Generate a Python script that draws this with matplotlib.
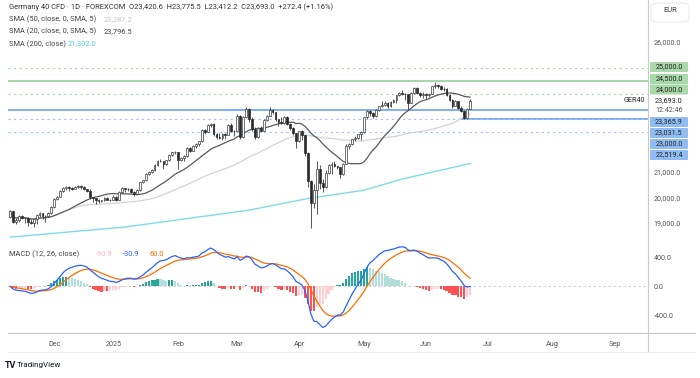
import pandas as pd
import matplotlib.pyplot as plt
import numpy as np
from matplotlib.patches import FancyBboxPatch
from matplotlib.lines import Line2D

plt.rcParams['font.family'] = ['Roboto', 'DejaVu Sans']

# Daily bars, 11 Nov 2024 -> 23 Jun 2025
opens = [19230, 19450, 19030, 19110, 19260, 19210, 19190, 19060, 19000, 19150, 19320, 19400, 19290, 19260, 19380,
         19620, 19930, 20020, 20230, 20350, 20380, 20340, 20320, 20400, 20420, 20400, 20310, 20240, 20000, 19960, 19880, 19850, 19880, 19980, 19900,
         19910, 20020, 19900, 20220, 20340, 20330, 20310, 20210, 20130, 20270, 20570, 20650, 20900, 20990, 21040, 21250, 21410, 21390, 21280, 21430, 21630, 21730,
         21730, 21430, 21500, 21590, 21900, 21790, 21990, 22040, 22150, 22610, 22510, 22800, 22840, 22430, 22310, 22290, 22420, 22410, 22790, 22550,
         22550, 23150, 22330, 23080, 23420, 23010, 22620, 22330, 22680, 22570, 22990, 23150, 23380, 23290, 23000, 22890, 22850, 23110, 22840, 22680, 22460,
         22160, 22540, 22390, 21720, 20640, 19790, 20280, 21100, 20560, 20380, 20950, 21250, 21300, 21200, 21150, 20880, 21290, 21960, 22060, 22240, 22270, 22430,
         22500, 23080, 23340, 23250, 23120, 23350, 23500, 23570, 23640, 23530, 23690, 23770, 23930, 24040, 24000, 23990, 23630, 24030, 24230, 24040, 23930,
         24000, 23930, 23990, 24280, 24320, 24300, 24170, 24160, 23950, 23770, 23520, 23700, 23430, 23320, 23060, 23420.6]
highs = [19500, 19480, 19200, 19300, 19330, 19250, 19230, 19150, 19100, 19350, 19420, 19410, 19320, 19420, 19650,
         19960, 20060, 20260, 20380, 20420, 20430, 20400, 20450, 20470, 20460, 20420, 20330, 20300, 20020, 19980, 19920, 19900, 20000, 19990, 19930,
         20100, 20040, 20250, 20380, 20360, 20370, 20360, 20230, 20300, 20600, 20680, 20920, 21000, 21080, 21280, 21430, 21470, 21400, 21450, 21650, 21760, 21800,
         21730, 21540, 21620, 21920, 21950, 22010, 22080, 22160, 22630, 22640, 22820, 22880, 22850, 22480, 22470, 22470, 22480, 22820, 22850, 22600,
         23200, 23170, 23150, 23480, 23450, 23080, 22700, 22720, 22760, 23030, 23190, 23480, 23420, 23300, 23020, 23080, 23130, 23150, 22870, 22700, 22480,
         22560, 22600, 22390, 21750, 20650, 20500, 21400, 21250, 20700, 21050, 21280, 21350, 21400, 21220, 21170, 21320, 22050, 22100, 22260, 22350, 22450, 22550,
         23100, 23370, 23360, 23300, 23400, 23530, 23700, 23700, 23660, 23720, 23800, 23950, 24060, 24120, 24020, 24000, 24050, 24250, 24240, 24050, 24050,
         24020, 24020, 24300, 24430, 24380, 24330, 24250, 24200, 24000, 23780, 23750, 23720, 23500, 23350, 23440, 23775.5]
lows = [19200, 19000, 18980, 19050, 19150, 19020, 18890, 18960, 18850, 18980, 19250, 19150, 19060, 19220, 19350,
        19600, 19880, 19990, 20200, 20280, 20250, 20260, 20300, 20360, 20330, 20260, 20200, 19950, 19800, 19750, 19790, 19830, 19840, 19880, 19860,
        19880, 19870, 19890, 20180, 20220, 20250, 20150, 20050, 20100, 20250, 20530, 20620, 20850, 20920, 21000, 21220, 21350, 21080, 21230, 21400, 21580, 21650,
        21100, 21380, 21400, 21560, 21750, 21770, 21900, 21960, 22120, 22450, 22500, 22700, 22380, 22230, 22250, 22210, 22230, 22400, 22530, 22380,
        22540, 22250, 22300, 23050, 22900, 22550, 22230, 22300, 22500, 22550, 22950, 23140, 23200, 22950, 22760, 22840, 22830, 22800, 22600, 22400, 21900,
        22130, 22200, 21600, 20380, 18800, 19600, 19350, 20300, 20200, 20360, 20900, 20900, 21150, 21100, 20750, 20850, 21270, 21850, 22000, 22150, 22230, 22200,
        22480, 23000, 23150, 23050, 23080, 23330, 23480, 23500, 23450, 23480, 23650, 23620, 23900, 23950, 23750, 23350, 23620, 24000, 24000, 23850, 23820,
        23800, 23850, 23980, 24200, 24200, 24150, 24100, 23900, 23720, 23450, 23500, 23400, 23300, 23020, 23050, 23412.2]
closes = [19450, 19030, 19110, 19260, 19210, 19190, 19060, 19000, 19150, 19320, 19400, 19290, 19260, 19380, 19620,
          19930, 20020, 20230, 20350, 20380, 20340, 20320, 20400, 20420, 20400, 20310, 20240, 20000, 19960, 19880, 19850, 19880, 19980, 19900, 19910,
          20020, 19900, 20220, 20340, 20330, 20310, 20210, 20130, 20270, 20570, 20650, 20900, 20990, 21040, 21250, 21410, 21390, 21280, 21430, 21630, 21730, 21730,
          21430, 21500, 21590, 21900, 21790, 21990, 22040, 22150, 22610, 22510, 22800, 22840, 22430, 22310, 22290, 22420, 22410, 22790, 22550, 22550,
          23150, 22330, 23080, 23420, 23010, 22620, 22330, 22680, 22570, 22990, 23150, 23380, 23290, 23000, 22890, 22850, 23110, 22840, 22680, 22460, 22160,
          22540, 22390, 21720, 20640, 19790, 20280, 21100, 20560, 20380, 20950, 21250, 21300, 21200, 21150, 20880, 21290, 21960, 22060, 22240, 22270, 22430, 22500,
          23080, 23340, 23250, 23120, 23350, 23500, 23570, 23640, 23530, 23690, 23770, 23930, 24040, 24000, 23990, 23630, 24030, 24230, 24040, 23930, 24000,
          23930, 23990, 24280, 24320, 24300, 24170, 24160, 23950, 23770, 23520, 23700, 23430, 23320, 23060, 23420.6, 23693.0]

# 200-day SMA (history before November is not on the chart)
sma200_bar = [0, 39, 81, 101, 120, 133, 156]
sma200_val = [18460, 18850, 19500, 19950, 20270, 20700, 21302]

month_labels = ['Dec', '2025', 'Feb', 'Mar', 'Apr', 'May', 'Jun', 'Jul', 'Aug', 'Sep']
month_bars = [15, 35, 57, 77, 98, 120, 141, 162, 184, 205]

green_solid = 24500.0
green_dotted = [25000.0, 24000.0]
blue_solid = 23365.9
blue_ray = 23000.0
blue_dotted = [23031.5, 22519.4]
green_tags = ['25,000.0', '24,500.0', '24,000.0']
blue_tags = ['23,365.9', '23,031.5', '23,000.0', '22,519.4']

df = pd.DataFrame({'o': opens, 'h': highs, 'l': lows, 'c': closes})
df['sma20'] = df['c'].rolling(20, min_periods=1).mean()
df['sma50'] = df['c'].rolling(50, min_periods=1).mean()
ema12 = df['c'].ewm(span=12, adjust=False).mean()
ema26 = df['c'].ewm(span=26, adjust=False).mean()
df['macd'] = ema12 - ema26
df['signal'] = df['macd'].ewm(span=9, adjust=False).mean()
df['hist'] = df['macd'] - df['signal']
x = np.arange(len(df))

W, H = 700, 378
fig = plt.figure(figsize=(7, 3.78), dpi=100)

def fx(px):
    return px / W

def fy(py):
    return 1 - py / H

ax = fig.add_axes([fx(8), fy(242), fx(640), 242 / H])
ax2 = fig.add_axes([fx(8), fy(333), fx(640), (333 - 242) / H], sharex=ax)

# --- price pane ---
ax.axhline(green_solid, color='#a5d6a7', lw=1.4, zorder=1)
for lv in green_dotted:
    ax.axhline(lv, color='#a5d6a7', lw=0.8, ls=(0, (2, 3)), zorder=1)
ax.axhline(blue_solid, color='#7eaef2', lw=1.4, zorder=1)
ax.hlines(blue_ray, 153, 230, color='#7eaef2', lw=1.4, zorder=1)
for lv in blue_dotted:
    ax.axhline(lv, color='#9cc2f5', lw=0.8, ls=(0, (2, 3)), zorder=1)

ax.plot(sma200_bar, sma200_val, color='#7fdbe9', lw=1.0, zorder=2)
ax.plot(x, df['sma50'], color='#d3d3d3', lw=0.9, zorder=2)
ax.plot(x, df['sma20'], color='#5a5a5a', lw=0.9, zorder=3)

up = df['c'] >= df['o']
ax.vlines(x, df['l'], df['h'], color='#3c3c3c', lw=0.6, zorder=4)
body_lo = np.minimum(df['o'], df['c'])
body_h = np.maximum(np.abs(df['c'] - df['o']), 8)
ax.bar(x[up], body_h[up], bottom=body_lo[up], width=0.62, color='white',
       edgecolor='#3c3c3c', linewidth=0.5, zorder=5)
ax.bar(x[~up], body_h[~up], bottom=body_lo[~up], width=0.62, color='#2b2b2b',
       edgecolor='#2b2b2b', linewidth=0.5, zorder=5)

ax.set_xlim(-0.7, 216.3)
ax.set_ylim(18272, 27609)
ax.yaxis.tick_right()
ax.set_yticks([19000, 20000, 21000, 26000])
ax.set_yticklabels([f'{v:,.1f}' for v in [19000, 20000, 21000, 26000]])
ax.tick_params(axis='y', length=0, pad=4, labelsize=5.2, labelcolor='#555555')
ax.tick_params(axis='x', bottom=False, labelbottom=False)
for s in ax.spines.values():
    s.set_visible(False)

# --- MACD pane ---
hist = df['hist'].values
cols = []
for i, v in enumerate(hist):
    prev = hist[i - 1] if i > 0 else 0
    if v >= 0:
        cols.append('#26a69a' if v > prev else '#b2dfdb')
    else:
        cols.append('#ffcdd2' if v > prev else '#ff5252')
ax2.axhline(0, color='#c8c8c8', lw=0.6, ls=(0, (3, 3)), zorder=0)
ax2.bar(x, hist, width=0.75, color=cols, zorder=1)
ax2.plot(x, df['macd'], color='#2962ff', lw=0.9, zorder=3)
ax2.plot(x, df['signal'], color='#ff6d00', lw=0.9, zorder=2)
ax2.set_ylim(-640, 610)
ax2.yaxis.tick_right()
ax2.set_yticks([-400, 0, 400])
ax2.set_yticklabels(['-400.0', '0.0', '400.0'])
ax2.tick_params(axis='y', length=0, pad=4, labelsize=5.2, labelcolor='#555555')
ax2.set_xticks(month_bars)
ax2.set_xticklabels(month_labels)
ax2.tick_params(axis='x', length=0, pad=6, labelsize=5.2, labelcolor='#555555')
for s in ax2.spines.values():
    s.set_visible(False)

# separators
fig.add_artist(Line2D([fx(648), fx(648)], [fy(0), fy(352)], color='#c9c9c9', lw=0.8))
fig.add_artist(Line2D([fx(8), fx(695)], [fy(333), fy(333)], color='#c9c9c9', lw=0.8))
fig.add_artist(Line2D([fx(8), fx(695)], [fy(352), fy(352)], color='#ececec', lw=0.6))

# right-axis tags
def tag(py, text, fc):
    fig.add_artist(FancyBboxPatch((fx(650), fy(py + 5)), fx(38), 10 / H,
                                  boxstyle='round,pad=0,rounding_size=0.002',
                                  fc=fc, ec='none', transform=fig.transFigure))
    fig.text(fx(669), fy(py), text, fontsize=5.2, color='#222222', ha='center', va='center')

for py, t in zip([67, 79, 89.5], green_tags):
    tag(py, t, '#a9d8a9')
for py, t in zip([122, 133, 144, 155], blue_tags):
    tag(py, t, '#8fbdf3')
fig.text(fx(669), fy(100.5), '23,693.0', fontsize=5.2, color='#222222', ha='center', va='center')
fig.text(fx(669), fy(110), '12:42:46', fontsize=5.2, color='#555555', ha='center', va='center')
fig.text(fx(645), fy(101), 'GER40', fontsize=5.2, color='#222222', ha='right', va='center')

fig.add_artist(FancyBboxPatch((fx(651), fy(22)), fx(38), 19 / H,
                              boxstyle='round,pad=0,rounding_size=0.01',
                              fc='white', ec='#e6e6e6', lw=0.6, transform=fig.transFigure))
fig.text(fx(670), fy(11), 'EUR', fontsize=5.4, color='#333333', ha='center', va='center')

# legends
fig.text(fx(9), fy(7), 'Germany 40 CFD · 1D · FOREXCOM  O23,420.6  H23,775.5  L23,412.2  C23,693.0  +272.4 (+1.16%)',
         fontsize=5.4, color='#333333', va='center')
fig.text(fx(9), fy(19.5), 'SMA (50, close, 0, SMA, 5)', fontsize=5.4, color='#444444', va='center')
fig.text(fx(104), fy(19.5), '23,287.2', fontsize=5.4, color='#c8c8c8', va='center')
fig.text(fx(9), fy(31.5), 'SMA (20, close, 0, SMA, 5)', fontsize=5.4, color='#444444', va='center')
fig.text(fx(104), fy(31.5), '23,796.5', fontsize=5.4, color='#444444', va='center')
fig.text(fx(9), fy(44), 'SMA (200, close)', fontsize=5.4, color='#444444', va='center')
fig.text(fx(68), fy(44), '21,302.0', fontsize=5.4, color='#4dd0e1', va='center')

fig.text(fx(9), fy(254), 'MACD (12, 26, close)', fontsize=5.4, color='#444444', va='center')
fig.text(fx(96), fy(254), '-90.9', fontsize=5.4, color='#ffb3bd', va='center')
fig.text(fx(123), fy(254), '-30.9', fontsize=5.4, color='#2962ff', va='center')
fig.text(fx(149), fy(254), '60.0', fontsize=5.4, color='#ff6d00', va='center')

fig.text(fx(5), fy(365), 'TV', fontsize=6.5, fontweight='bold', color='#131722', va='center')
fig.text(fx(17), fy(365), 'TradingView', fontsize=5.8, color='#131722', va='center')

plt.savefig('out.png', dpi=100)
plt.close()
